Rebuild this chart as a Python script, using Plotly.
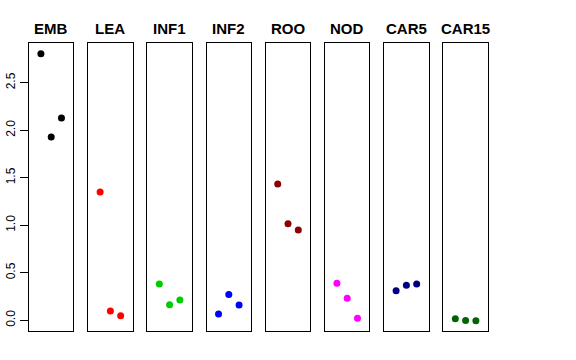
import plotly.graph_objects as go

categories = ["EMB", "LEA", "INF1", "INF2", "ROO", "NOD", "CAR5", "CAR15"]
colors = ["#000000", "#FF0000", "#00CD00", "#0000FF", "#8B0000", "#FF00FF", "#000080", "#006400"]
replicate = [1, 2, 3]
values = {
    "EMB":   [2.806, 1.929, 2.129],
    "LEA":   [1.351, 0.098, 0.048],
    "INF1":  [0.382, 0.164, 0.214],
    "INF2":  [0.066, 0.270, 0.161],
    "ROO":   [1.435, 1.017, 0.951],
    "NOD":   [0.389, 0.232, 0.021],
    "CAR5":  [0.312, 0.368, 0.382],
    "CAR15": [0.017, -0.003, -0.004],
}
y_ticks = [0.0, 0.5, 1.0, 1.5, 2.0, 2.5]
y_ticktext = ["0.0", "0.5", "1.0", "1.5", "2.0", "2.5"]

W, H = 576, 360
left0, step, width = 29.0, 59.2, 44.4
top_px, bot_px = 43.3, 331.0
ydom = [(H - bot_px) / H, (H - top_px) / H]
yrange = [-0.113, 2.916]
xrange = [-0.16, 4.16]

fig = go.Figure()
layout = dict(
    width=W, height=H,
    margin=dict(l=0, r=0, t=0, b=0, autoexpand=False),
    paper_bgcolor="white", plot_bgcolor="white",
    showlegend=False, hovermode=False,
    font=dict(family="Liberation Sans, Arial, sans-serif", color="black"),
)
annotations = []
for i, (cat, col) in enumerate(zip(categories, colors)):
    n = "" if i == 0 else str(i + 1)
    fig.add_trace(go.Scatter(
        x=replicate, y=values[cat], mode="markers",
        marker=dict(color=col, size=7),
        xaxis="x" + n, yaxis="y" + n, cliponaxis=False,
    ))
    l = left0 + i * step
    layout["xaxis" + n] = dict(
        domain=[l / W, (l + width) / W], range=xrange,
        showgrid=False, zeroline=False, showticklabels=False, ticks="",
        showline=True, mirror=True, linecolor="black", linewidth=1,
        anchor="y" + n, fixedrange=True, automargin=False,
    )
    ya = dict(
        domain=ydom, range=yrange, anchor="x" + n,
        showgrid=False, zeroline=False,
        showline=True, mirror=True, linecolor="black", linewidth=1,
        fixedrange=True, automargin=False,
    )
    if i == 0:
        ya.update(
            tickmode="array", tickvals=y_ticks, ticktext=y_ticktext,
            ticks="outside", ticklen=8, tickcolor="black", tickwidth=1,
            tickangle=-90, tickfont=dict(size=12, color="black"),
            showticklabels=True,
        )
    else:
        ya.update(showticklabels=False, ticks="")
    layout["yaxis" + n] = ya
    annotations.append(dict(
        text="<b>%s</b>" % cat, x=(l + width / 2) / W, y=(H - 28.5) / H,
        xref="paper", yref="paper", xanchor="center", yanchor="middle",
        showarrow=False, font=dict(size=15, color="black"),
    ))
layout["annotations"] = annotations
fig.update_layout(**layout)
fig.write_html(
    "out.html",
    config={"displayModeBar": False, "staticPlot": True},
    post_script="document.body.style.margin='0';document.body.style.overflow='hidden';",
)
